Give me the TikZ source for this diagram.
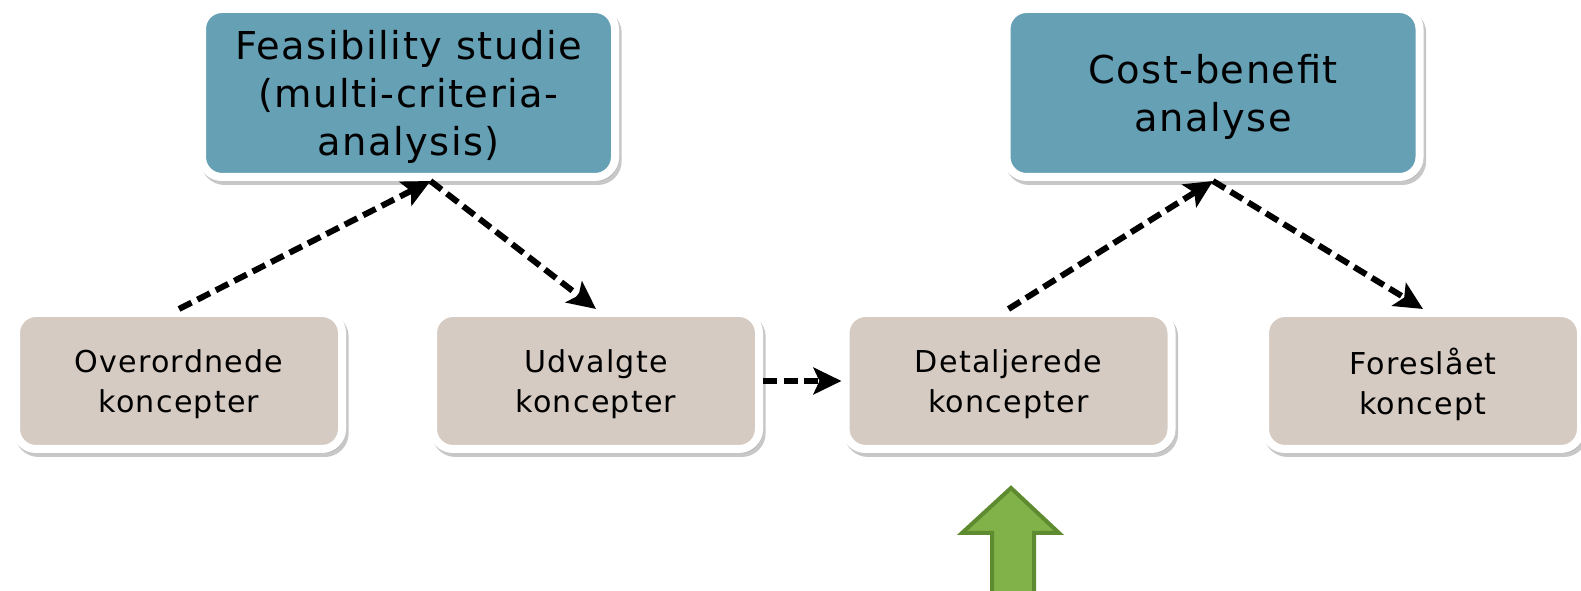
\documentclass[tikz,border=0pt]{standalone}
\usepackage{fontspec}
\setmainfont{DejaVu Sans}[LetterSpace=4.0]
\usetikzlibrary{arrows.meta,positioning,shadows,calc}
\definecolor{tealbox}{RGB}{101,160,181}
\definecolor{sandbox}{RGB}{214,203,194}
\definecolor{lgreen}{RGB}{129,178,73}
\definecolor{dgreen}{RGB}{94,139,48}
\tikzstyle{block} = [rectangle, draw=white, line width=6pt, rounded corners=15pt,
  align=center, inner sep=0pt, text depth=0pt,
  drop shadow={opacity=0.22, shadow xshift=2pt, shadow yshift=-3pt,
    draw=black, line width=6pt}]
\tikzstyle{method} = [block, fill=tealbox, minimum width=309.75pt, minimum height=126pt,
  font=\fontsize{28.8}{36}\selectfont]
\tikzstyle{concept} = [block, fill=sandbox, minimum width=244.5pt, minimum height=102pt,
  font=\fontsize{22.6}{30}\selectfont]
\tikzset{
  link/.style={draw, line width=4.5pt, dash pattern=on 10.5pt off 5pt,
    -{Stealth[length=21pt, width=20pt, inset=4.5pt]}}, % dashed arrow
  push/.style={draw=dgreen, fill=lgreen, line width=3pt, line join=miter}
}

\begin{document}
\begin{tikzpicture}[x=0.75pt, y=0.75pt]

  \clip (0,0) rectangle (1581,591);

  %%%%%%%%%%%%%%%%%%%%%%%%%%%%%%%%%%%%%%%%%%%%%%%%%%%%%%%%%%%%%%
  %                    ANALYSES                                %
  %%%%%%%%%%%%%%%%%%%%%%%%%%%%%%%%%%%%%%%%%%%%%%%%%%%%%%%%%%%%%%

  \node [method] at (408.5,498) (feasibility) {
    Feasibility studie\\(multi-criteria-\\analysis)
  };
  \node [method] at (1213,498) (cost-benefit) {
    Cost-benefit\\analyse
  };

  %%%%%%%%%%%%%%%%%%%%%%%%%%%%%%%%%%%%%%%%%%%%%%%%%%%%%%%%%%%%%%
  %                    CONCEPTS                                %
  %%%%%%%%%%%%%%%%%%%%%%%%%%%%%%%%%%%%%%%%%%%%%%%%%%%%%%%%%%%%%%

  \node [concept] at (179,210) (overordnede) {
    Overordnede\\koncepter
  };
  \node [concept] at (596,210) (udvalgte) {
    Udvalgte\\koncepter
  };
  \node [concept] at (1008.5,210) (detaljerede) {
    Detaljerede\\koncepter
  };
  \node [concept, minimum width=237pt] at (1423,210) (foreslaaet) {
    Foreslået\\koncept
  };

  \coordinate (feasibility-tip) at ([xshift=16.5pt]feasibility.south);

  \draw[link] (overordnede.north) -- (feasibility-tip);
  \draw[link] (feasibility-tip) -- (udvalgte.north);
  \draw[link] (udvalgte.east) -- (detaljerede.west);
  \draw[link] (detaljerede.north) -- (cost-benefit.south);
  \draw[link] (cost-benefit.south) -- (foreslaaet.north);

  % green push arrow from below
  \draw[push] (1011,103) -- (1059,58) -- (1034,58) -- (1034,-10)
    -- (992,-10) -- (992,58) -- (962,58) -- cycle;

\end{tikzpicture}
\end{document}
